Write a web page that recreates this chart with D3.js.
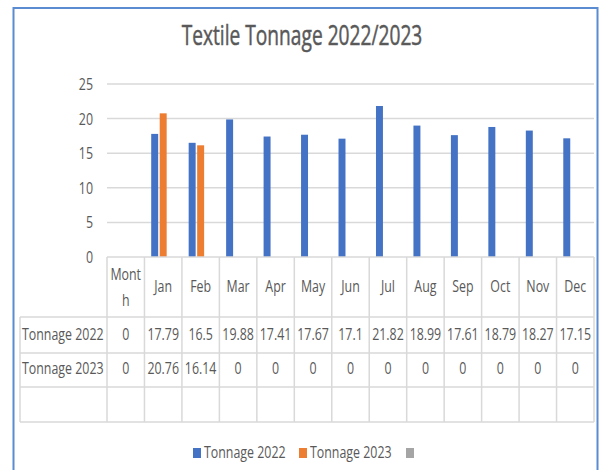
<!DOCTYPE html>
<html>
<head>
<meta charset="utf-8">
<script src="https://cdn.jsdelivr.net/npm/d3@7/dist/d3.min.js"></script>
<style>
  html, body { margin: 0; padding: 0; background: #fff; }
  svg { display: block; }
  text { font-family: "Open Sans", "Liberation Sans", sans-serif; fill: #595959; }
</style>
</head>
<body>
<svg id="chart" width="600" height="470"></svg>
<script>
// Monthly textile tonnage, 2022 vs 2023
const categories = ["Month", "Jan", "Feb", "Mar", "Apr", "May", "Jun", "Jul", "Aug", "Sep", "Oct", "Nov", "Dec"];
const tonnage2022 = [0, 17.79, 16.5, 19.88, 17.41, 17.67, 17.1, 21.82, 18.99, 17.61, 18.79, 18.27, 17.15];
const tonnage2023 = [0, 20.76, 16.14, 0, 0, 0, 0, 0, 0, 0, 0, 0, 0];
const seriesNames = ["Tonnage 2022", "Tonnage 2023", ""];
const seriesColors = ["#4472C4", "#ED7D31", "#A5A5A5"];
const yTicks = [0, 5, 10, 15, 20, 25];

const series = [
  { name: seriesNames[0], values: tonnage2022, color: seriesColors[0] },
  { name: seriesNames[1], values: tonnage2023, color: seriesColors[1] },
  { name: seriesNames[2], values: [], color: seriesColors[2] }
];

const svg = d3.select("#chart");
const W = 600, H = 470;
const gridColor = "#D9D9D9";
const fs = 15.5;
const narrow = 0.8;

// condensed label: a text node inside a horizontally squeezed group
function label(parent, tx, ty, str, anchor, size, k) {
  return parent.append("g")
    .attr("transform", `translate(${tx},${ty}) scale(${k},1)`)
    .append("text")
    .attr("text-anchor", anchor)
    .attr("font-size", size)
    .text(str);
}

svg.append("rect").attr("width", W).attr("height", H).attr("fill", "#fff");

// chart area frame
svg.append("rect")
  .attr("x", 13.5).attr("y", 8).attr("width", 584).attr("height", 520)
  .attr("fill", "none").attr("stroke", "#5B8BD0").attr("stroke-width", 2);

// title
label(svg, 302, 45, "Textile Tonnage 2022/2023", "middle", 27, 0.71)
  .attr("stroke", "#595959").attr("stroke-width", 0.5);

const plot = { left: 107, right: 594, top: 84, bottom: 257 };

const x = d3.scaleBand().domain(categories).range([plot.left, plot.right]).paddingInner(0).paddingOuter(0);
const y = d3.scaleLinear().domain([0, 25]).range([plot.bottom, plot.top]);
const xs = d3.scaleBand().domain(d3.range(series.length))
  .range([-12.75, 12.75]).paddingInner(0.18).paddingOuter(0.09);

// gridlines
svg.append("g").selectAll("line").data(yTicks.filter(t => t > 0)).join("line")
  .attr("x1", plot.left).attr("x2", plot.right)
  .attr("y1", d => y(d)).attr("y2", d => y(d))
  .attr("stroke", gridColor).attr("stroke-width", 1.5);

// value axis: positions from the axis generator, labels squeezed
const yAxis = svg.append("g")
  .attr("transform", `translate(${plot.left},0)`)
  .call(d3.axisLeft(y).tickValues(yTicks).tickSize(0).tickFormat(""));
yAxis.select(".domain").remove();
yAxis.selectAll(".tick").each(function (d) {
  label(d3.select(this), -14, 5.5, String(d), "end", fs, narrow);
});

// bars
series.forEach((s, si) => {
  svg.append("g").selectAll("rect")
    .data(s.values.map((v, i) => ({ cat: categories[i], v })).filter(d => d.v > 0))
    .join("rect")
    .attr("x", d => x(d.cat) + x.bandwidth() / 2 + xs(si))
    .attr("width", xs.bandwidth())
    .attr("y", d => y(d.v))
    .attr("height", d => y(0) - y(d.v))
    .attr("fill", s.color);
});

// data table
const rowY = [257, 317, 353, 387, 422];
const tableLeft = 20;
const tbl = svg.append("g").attr("stroke", gridColor).attr("stroke-width", 1.5);

// horizontal rules
tbl.append("line").attr("x1", plot.left).attr("x2", plot.right).attr("y1", rowY[0]).attr("y2", rowY[0]);
rowY.slice(1).forEach(yy => {
  tbl.append("line").attr("x1", tableLeft).attr("x2", plot.right).attr("y1", yy).attr("y2", yy);
});
// vertical rules
tbl.append("line").attr("x1", tableLeft).attr("x2", tableLeft).attr("y1", rowY[1]).attr("y2", rowY[4]);
categories.forEach(c => {
  tbl.append("line").attr("x1", x(c)).attr("x2", x(c)).attr("y1", rowY[0]).attr("y2", rowY[4]);
});
tbl.append("line").attr("x1", plot.right).attr("x2", plot.right).attr("y1", rowY[0]).attr("y2", rowY[4]);

// header row (category names)
const header = svg.append("g");
categories.forEach(c => {
  const cx = x(c) + x.bandwidth() / 2;
  if (c === "Month") {
    label(header, cx, 280, "Mont", "middle", fs, narrow);
    label(header, cx, 306, "h", "middle", fs, narrow);
  } else {
    label(header, cx, 292, c, "middle", fs, narrow);
  }
});

// value rows
const rows = [
  { label: seriesNames[0], values: tonnage2022, base: 340 },
  { label: seriesNames[1], values: tonnage2023, base: 374 }
];
rows.forEach(r => {
  const g = svg.append("g");
  label(g, 22, r.base, r.label, "start", fs, narrow);
  r.values.forEach((v, i) => {
    label(g, x(categories[i]) + x.bandwidth() / 2, r.base, String(v), "middle", fs, narrow);
  });
});

// legend
const legendItems = [
  { name: seriesNames[0], color: seriesColors[0], x: 193 },
  { name: seriesNames[1], color: seriesColors[1], x: 299 },
  { name: seriesNames[2], color: seriesColors[2], x: 406 }
];
const lg = svg.append("g");
legendItems.forEach(it => {
  lg.append("rect").attr("x", it.x).attr("y", 448).attr("width", 8).attr("height", 10).attr("fill", it.color);
  if (it.name) label(lg, it.x + 11, 458, it.name, "start", fs, narrow);
});
</script>
</body>
</html>
